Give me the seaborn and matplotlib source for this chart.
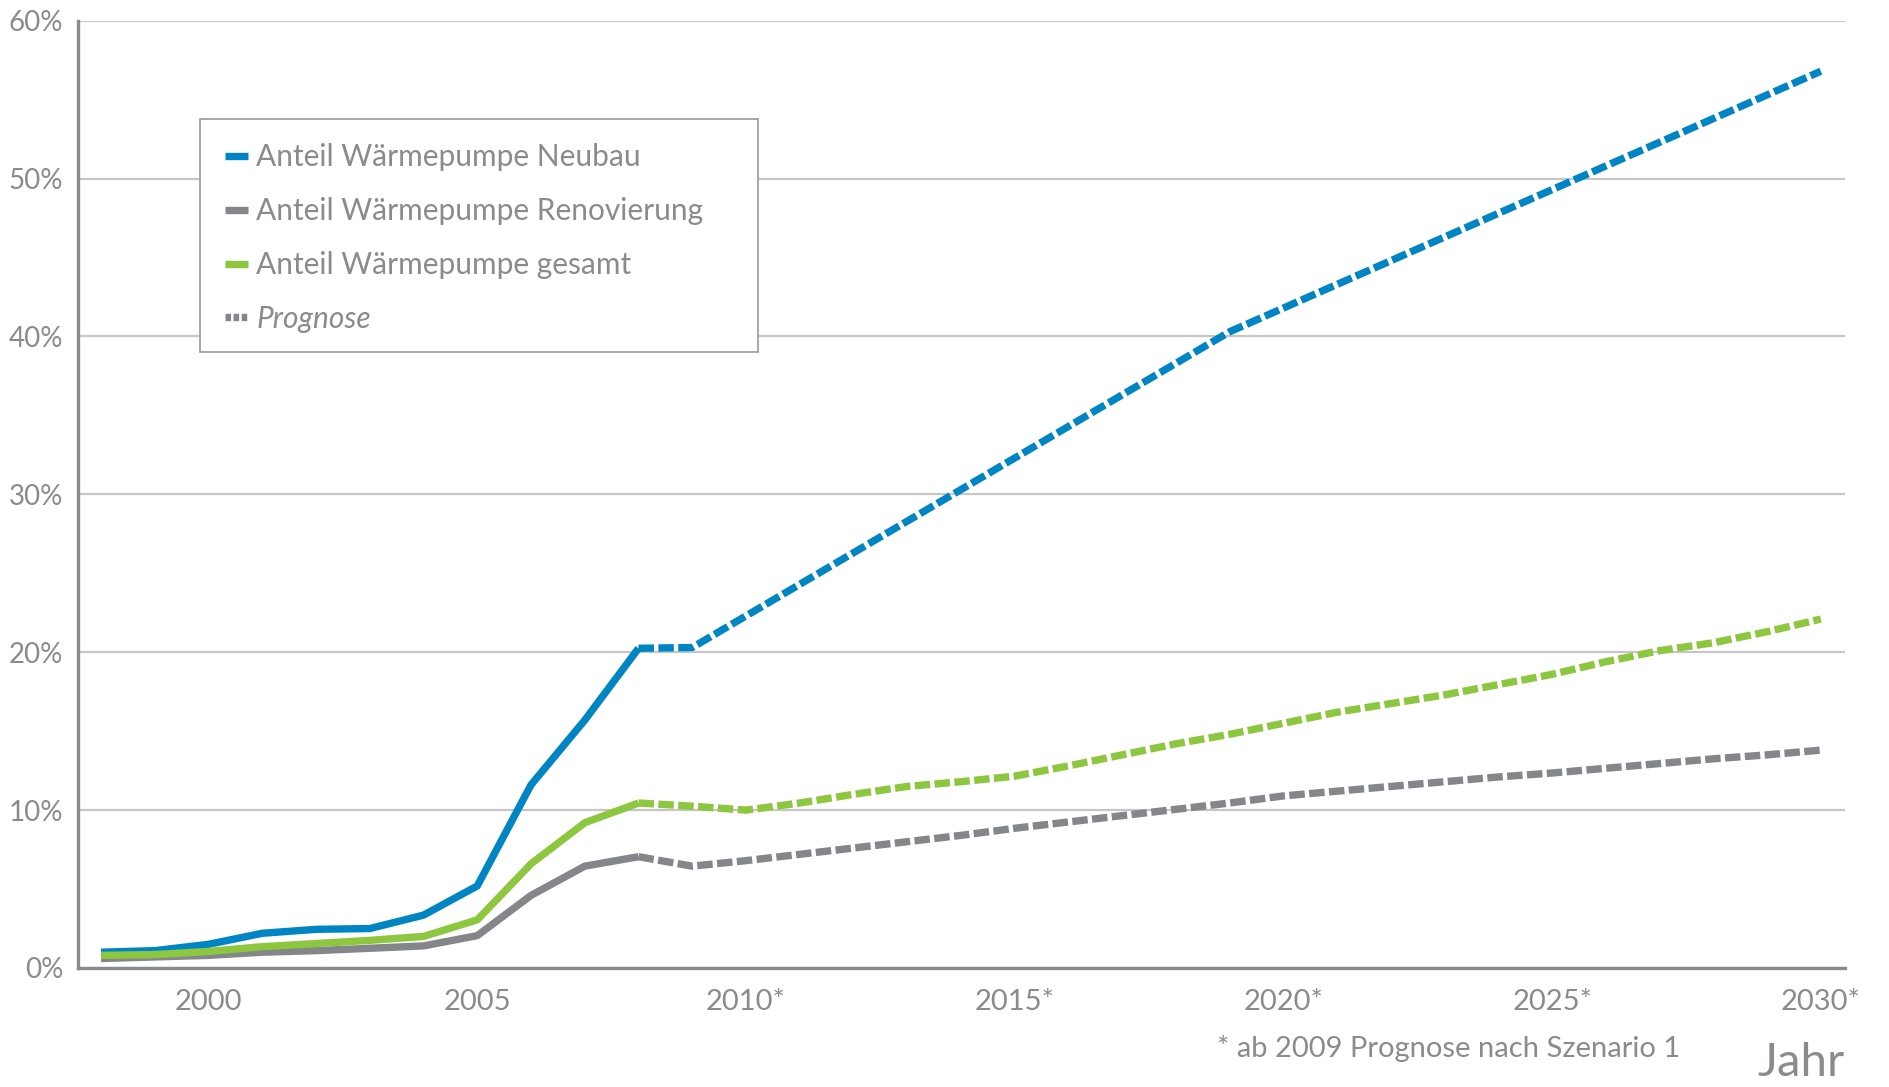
import matplotlib
matplotlib.use("Agg")
import matplotlib.pyplot as plt
from matplotlib.lines import Line2D
from matplotlib.patches import Rectangle
import seaborn as sns
import pandas as pd

# ---------------- data ----------------
years_hist = list(range(1998, 2009))
neubau_hist = [1.0, 1.1, 1.5, 2.2, 2.45, 2.5, 3.35, 5.2, 11.6, 15.7, 20.25]
renov_hist = [0.6, 0.7, 0.8, 1.0, 1.1, 1.25, 1.4, 2.05, 4.6, 6.45, 7.05]
gesamt_hist = [0.8, 0.85, 1.05, 1.35, 1.55, 1.75, 2.0, 3.05, 6.6, 9.2, 10.45]

years_prog = list(range(2008, 2031))
neubau_prog = [20.25, 20.3, 22.3, 24.3, 26.3, 28.3, 30.3, 32.3, 34.3, 36.3, 38.3, 40.3,
               41.8, 43.3, 44.8, 46.3, 47.8, 49.3, 50.8, 52.3, 53.8, 55.3, 56.8]
renov_prog = [7.05, 6.45, 6.8, 7.2, 7.6, 8.0, 8.4, 8.85, 9.25, 9.65, 10.05, 10.45,
              10.9, 11.2, 11.5, 11.8, 12.1, 12.35, 12.65, 12.95, 13.25, 13.5, 13.8]
gesamt_prog = [10.45, 10.25, 10.0, 10.45, 11.0, 11.5, 11.8, 12.15, 12.8, 13.5, 14.2, 14.8,
               15.5, 16.2, 16.75, 17.3, 17.95, 18.6, 19.4, 20.1, 20.6, 21.3, 22.1]

series_names = ["Anteil Wärmepumpe Neubau", "Anteil Wärmepumpe Renovierung", "Anteil Wärmepumpe gesamt"]
prognose_label = "Prognose"
xtick_values = [2000, 2005, 2010, 2015, 2020, 2025, 2030]
xtick_labels = ["2000", "2005", "2010*", "2015*", "2020*", "2025*", "2030*"]
ytick_values = [0, 10, 20, 30, 40, 50, 60]
ytick_labels = ["0%", "10%", "20%", "30%", "40%", "50%", "60%"]
footnote = "* ab 2009 Prognose nach Szenario 1"
xlabel_text = "Jahr"

# ---------------- styles ----------------
colors = {series_names[0]: "#0085C4", series_names[1]: "#858689", series_names[2]: "#8DC63F"}
text_color = "#8A8B8E"
grid_color = "#C6C6C6"
spine_color = "#8A8B8E"

rows = []
for name, hist, prog in zip(series_names, [neubau_hist, renov_hist, gesamt_hist],
                            [neubau_prog, renov_prog, gesamt_prog]):
    for y, v in zip(years_hist, hist):
        rows.append({"Jahr": y, "Wert": v, "Reihe": name, "Phase": "hist"})
    for y, v in zip(years_prog, prog):
        rows.append({"Jahr": y, "Wert": v, "Reihe": name, "Phase": "prog"})
df = pd.DataFrame(rows)

sns.set_style("white")
plt.rcParams["font.family"] = ["Lato", "DejaVu Sans"]
plt.rcParams["lines.solid_capstyle"] = "butt"
plt.rcParams["lines.dash_capstyle"] = "butt"

W, H = 1890, 1087
ax_l, ax_r, ax_t, ax_b = 78, 1845, 20.7, 968
fig = plt.figure(figsize=(W / 100, H / 100), dpi=100)
ax = fig.add_axes([ax_l / W, 1 - ax_b / H, (ax_r - ax_l) / W, (ax_b - ax_t) / H])

def ax_x(px):
    return (px - ax_l) / (ax_r - ax_l)

def ax_y(py):
    return 1 - (py - ax_t) / (ax_b - ax_t)

lw = 5.3
dash = (2.1, 0.6)
sns.lineplot(data=df, x="Jahr", y="Wert", hue="Reihe", style="Phase",
             hue_order=series_names, style_order=["hist", "prog"],
             palette=colors, dashes={"hist": "", "prog": dash},
             linewidth=lw, estimator=None, sort=True, legend=False, ax=ax)
for ln in ax.get_lines():
    ln.set_solid_joinstyle("round")
    ln.set_dash_joinstyle("round")

ax.set_xlim(1997.57, 2030.45)
ax.set_ylim(0, 60)
ax.set_xticks(xtick_values)
ax.set_xticklabels(xtick_labels, fontsize=21, color=text_color)
ax.set_yticks(ytick_values)
ax.set_yticklabels(ytick_labels, fontsize=20, color=text_color)
ax.tick_params(axis="x", direction="out", length=9, width=2, color=spine_color, pad=6)
ax.tick_params(axis="y", length=0, pad=10.5)
ax.yaxis.grid(True, color=grid_color, linewidth=1.6)
ax.xaxis.grid(False)
ax.set_axisbelow(True)
ax.set_xlabel("")
ax.set_ylabel("")
for s in ["top", "right"]:
    ax.spines[s].set_visible(False)
for s in ["left", "bottom"]:
    ax.spines[s].set_color(spine_color)
    ax.spines[s].set_linewidth(2.4)
    ax.spines[s].set_zorder(5)

# legend box
x0, x1 = ax_x(200), ax_x(758)
y_top, y_bot = ax_y(119), ax_y(352)
ax.add_patch(Rectangle((x0, y_bot), x1 - x0, y_top - y_bot, transform=ax.transAxes,
                       facecolor="white", edgecolor="#9A9A9A", linewidth=1.2, zorder=8))

handles = [Line2D([0], [0], color=colors[n], lw=lw) for n in series_names]
handles.append(Line2D([0], [0], color=colors[series_names[1]], lw=lw, dashes=(0.75, 0.35)))
labels = series_names + [prognose_label]
leg = ax.legend(handles, labels, loc="upper left", bbox_to_anchor=(ax_x(225), ax_y(143)),
                fontsize=21.5, frameon=False, handlelength=0.78, handletextpad=0.26,
                labelspacing=0.87, borderpad=0, borderaxespad=0)
leg.set_zorder(9)
for t in leg.get_texts():
    t.set_color(text_color)
leg.get_texts()[-1].set_fontstyle("italic")

fig.text(1449 / W, 1 - 1057 / H, footnote, ha="center", va="baseline",
         fontsize=21, color=text_color)
fig.text(1801 / W, 1 - 1076 / H, xlabel_text, ha="center", va="baseline",
         fontsize=34, color=text_color)

fig.savefig("out.png", dpi=100, facecolor="white")
